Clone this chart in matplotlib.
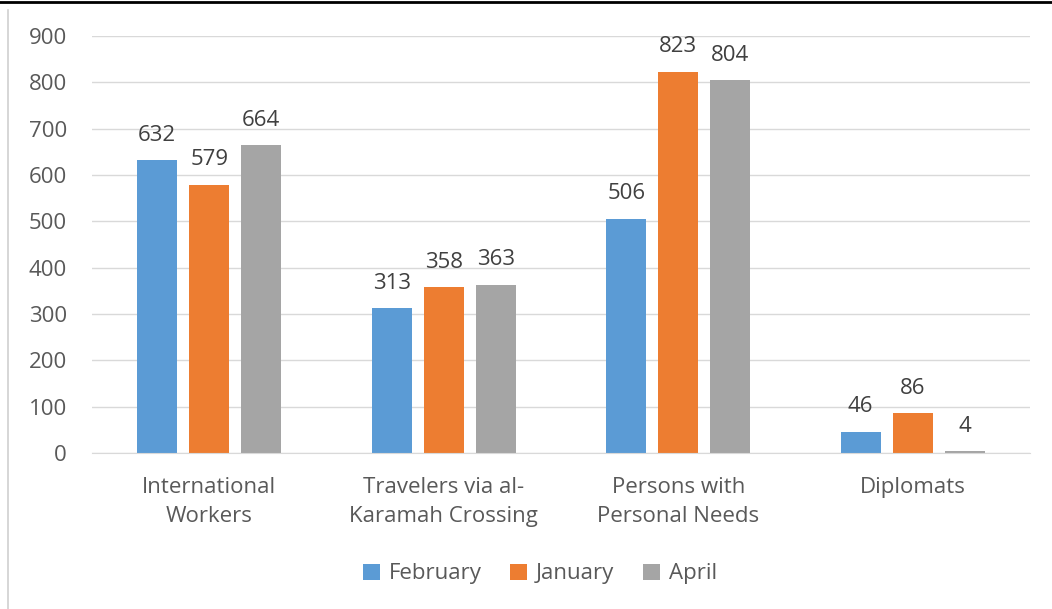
import matplotlib
matplotlib.use("Agg")
import matplotlib.pyplot as plt
from matplotlib.lines import Line2D
from matplotlib.patches import Patch
import numpy as np

categories = ["International\nWorkers", "Travelers via al-\nKaramah Crossing",
              "Persons with\nPersonal Needs", "Diplomats"]
series_names = ["February", "January", "April"]
february = [632, 313, 506, 46]
january = [579, 358, 823, 86]
april = [664, 363, 804, 4]
colors = ["#5B9BD5", "#ED7D31", "#A5A5A5"]
yticks = [0, 100, 200, 300, 400, 500, 600, 700, 800, 900]

plt.rcParams['font.family'] = ['Open Sans', 'DejaVu Sans']
txt = "#595959"
fs = 16

fig = plt.figure(figsize=(10.52, 6.09), dpi=100)
ax = fig.add_axes([92/1052, 1 - 453/609, 938/1052, (453-36)/609])

x = np.arange(len(categories))
w = 40/234.5
step = 52/234.5
for i, (vals, name) in enumerate(zip([february, january, april], series_names)):
    pos = x + (i - 1) * step
    ax.bar(pos, vals, width=w, color=colors[i], label=name, zorder=3)
    for p, v in zip(pos, vals):
        ax.annotate(str(v), (p, v), xytext=(0, 14), textcoords='offset points',
                    ha='center', va='baseline', fontsize=fs, color="#404040")

ax.set_xlim(-0.5, 3.5)
ax.set_ylim(0, 900)
ax.set_yticks(yticks)
ax.set_yticklabels([str(t) for t in yticks], fontsize=fs, color=txt)
ax.set_xticks(x)
ax.set_xticklabels(categories, fontsize=fs, color=txt, linespacing=1.55)
ax.tick_params(axis='both', length=0)
ax.tick_params(axis='y', pad=18)
ax.tick_params(axis='x', pad=17)
ax.grid(axis='y', color="#D9D9D9", linewidth=1, zorder=0)
for s in ['top', 'right', 'left']:
    ax.spines[s].set_visible(False)
ax.spines['bottom'].set_color("#D9D9D9")
ax.spines['bottom'].set_zorder(4)

handles = [Patch(facecolor=c, label=n) for c, n in zip(colors, series_names)]
fig.legend(handles=handles, loc='center', bbox_to_anchor=(540/1052, 1 - 574/609),
           ncol=3, frameon=False, fontsize=fs, handlelength=0.75, handleheight=0.75,
           handletextpad=0.4, columnspacing=1.3, labelcolor=txt)

fig.add_artist(Line2D([0, 1], [1 - 2/609, 1 - 2/609], color='black', linewidth=2, transform=fig.transFigure))
fig.add_artist(Line2D([8/1052, 8/1052], [0, 1 - 10/609], color='#D0D0D0', linewidth=1.2, transform=fig.transFigure))

fig.savefig("out.png", dpi=100)
